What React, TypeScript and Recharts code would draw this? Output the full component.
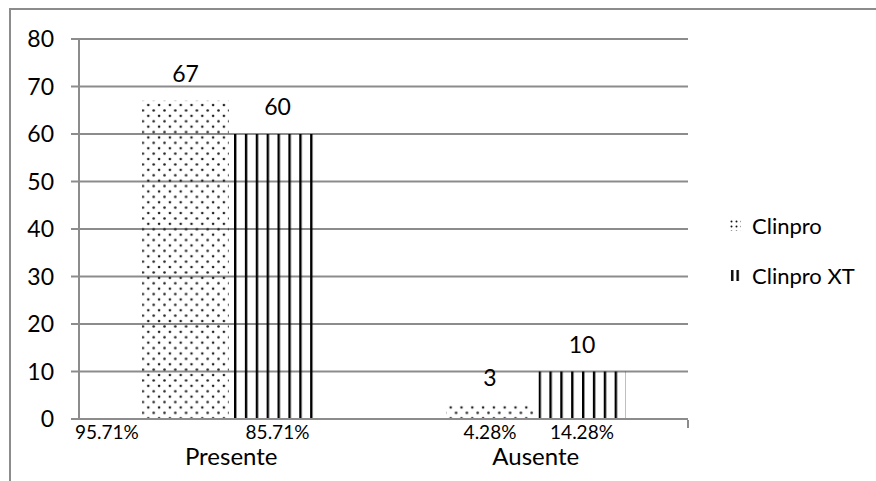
import React from 'react'
import {
  Bar,
  BarChart,
  CartesianGrid,
  LabelList,
  Legend,
  XAxis,
  YAxis,
} from 'recharts'

const categories = ['Presente', 'Ausente']
const clinpro = [67, 3]
const clinproXT = [60, 10]
const clinproPct = ['95.71%', '4.28%']
const clinproXTPct = ['85.71%', '14.28%']
const yTicks = [0, 10, 20, 30, 40, 50, 60, 70, 80]
const edgeTicks = [1, 2]

const data = categories.map((name, i) => ({
  name,
  clinpro: clinpro[i],
  xt: clinproXT[i],
  clinproPct: clinproPct[i],
  xtPct: clinproXTPct[i],
}))

const FONT = 'Lato, "Open Sans", sans-serif'
const GRID = '#8c8c8c'

function pctLabel(shiftFirst: boolean) {
  return (props: any) => {
    const { x, y, width, height, value, index } = props
    const base = Number(y) + Number(height)
    const left = shiftFirst && index === 0
    return (
      <text
        x={left ? Number(x) - 67 : Number(x) + Number(width) / 2}
        y={base + 12}
        textAnchor={left ? 'start' : 'middle'}
        dominantBaseline="central"
        fontSize={19}
        fontFamily={FONT}
        fill="#000"
      >
        {value}
      </text>
    )
  }
}

function CategoryTick(props: any) {
  const { x, y, payload } = props
  return (
    <text
      x={x}
      y={Number(y) + 28}
      textAnchor="middle"
      dominantBaseline="central"
      fontSize={24}
      fontFamily={FONT}
      fill="#000"
    >
      {payload.value}
    </text>
  )
}

function LegendContent() {
  const rows = [
    { label: 'Clinpro', fill: 'url(#dotsIcon)' },
    { label: 'Clinpro XT', fill: 'url(#stripesIcon)' },
  ]
  return (
    <div style={{ fontFamily: FONT, fontSize: 22, color: '#000' }}>
      {rows.map((r, i) => (
        <div
          key={r.label}
          style={{ display: 'flex', alignItems: 'center', height: 26, marginTop: i ? 24 : 0 }}
        >
          <svg width={11} height={11} style={{ marginRight: 11 }}>
            <defs>
              <pattern id="dotsIcon" width={5} height={5} patternUnits="userSpaceOnUse">
                <circle cx={1.5} cy={1.5} r={1} fill="#111" />
              </pattern>
              <pattern id="stripesIcon" width={5.5} height={11} patternUnits="userSpaceOnUse">
                <rect x={1} y={0} width={2.4} height={11} fill="#000" />
              </pattern>
            </defs>
            <rect x={0} y={0} width={11} height={11} fill={r.fill} />
          </svg>
          <span>{r.label}</span>
        </div>
      ))}
    </div>
  )
}

export default function App() {
  return (
    <div
      style={{
        position: 'absolute',
        left: 0,
        top: 0,
        width: 876,
        height: 481,
        overflow: 'hidden',
        background: '#fff',
      }}
    >
      <div
        style={{
          position: 'absolute',
          left: 9,
          top: 8,
          width: 900,
          height: 500,
          borderLeft: `2px solid ${GRID}`,
          borderTop: `2px solid ${GRID}`,
        }}
      />
      <BarChart
        width={876}
        height={481}
        data={data}
        margin={{ top: 39, right: 188, left: 0, bottom: 0 }}
        barCategoryGap={63}
        barGap={5}
        style={{ position: 'absolute', left: 0, top: 0 }}
      >
        <defs>
          <pattern id="dots" width={10.8} height={10.8} patternUnits="userSpaceOnUse">
            <circle cx={2.5} cy={2.5} r={1.3} fill="#222" />
            <circle cx={7.9} cy={7.9} r={1.3} fill="#222" />
          </pattern>
          <pattern id="stripes" width={0.125} height={1} patternUnits="objectBoundingBox">
            <rect x={0} y={0} width={2.4} height={1000} fill="#000" />
          </pattern>
        </defs>
        <CartesianGrid
          xAxisId="cat"
          vertical={false}
          stroke={GRID}
          strokeWidth={2}
        />
        <XAxis
          xAxisId="cat"
          dataKey="name"
          height={1}
          axisLine={{ stroke: GRID, strokeWidth: 2 }}
          tickLine={false}
          tick={<CategoryTick />}
          interval={0}
        />
        <XAxis
          xAxisId="edge"
          type="number"
          domain={[0, 2]}
          ticks={edgeTicks}
          allowDataOverflow
          height={61}
          axisLine={false}
          tickSize={8}
          tickLine={{ stroke: GRID, strokeWidth: 2 }}
          tick={() => <g />}
        />
        <YAxis
          width={79}
          domain={[0, 80]}
          ticks={yTicks}
          interval={0}
          tickSize={8}
          tickMargin={17}
          axisLine={{ stroke: GRID, strokeWidth: 2 }}
          tickLine={{ stroke: GRID, strokeWidth: 2 }}
          tick={{ fontSize: 23, fontFamily: FONT, fill: '#000' }}
        />
        <Legend
          content={<LegendContent />}
          wrapperStyle={{ position: 'absolute', left: 730, top: 212, width: 146, height: 0, overflow: 'visible' }}
        />
        <Bar xAxisId="cat" dataKey="clinpro" name="Clinpro" fill="url(#dots)" isAnimationActive={false}>
          <LabelList
            dataKey="clinpro"
            position="top"
            offset={19}
            style={{ fontSize: 23, fontFamily: FONT, fill: '#000' }}
          />
          <LabelList dataKey="clinproPct" content={pctLabel(true)} />
        </Bar>
        <Bar xAxisId="cat" dataKey="xt" name="Clinpro XT" fill="url(#stripes)" isAnimationActive={false}>
          <LabelList
            dataKey="xt"
            position="top"
            offset={19}
            style={{ fontSize: 23, fontFamily: FONT, fill: '#000' }}
          />
          <LabelList dataKey="xtPct" content={pctLabel(false)} />
        </Bar>
      </BarChart>
    </div>
  )
}
